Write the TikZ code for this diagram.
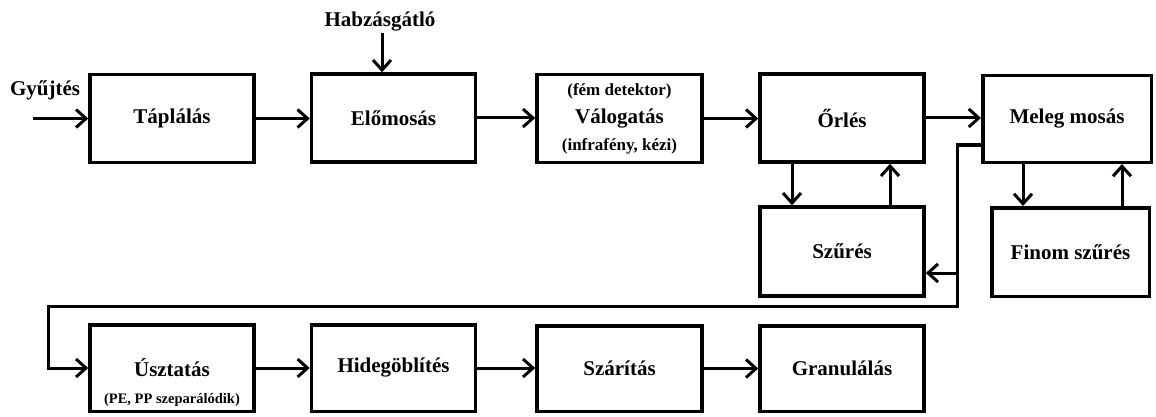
\documentclass[tikz,border=0pt]{standalone}
\usepackage{fontspec}
\setmainfont{Liberation Serif}
\usetikzlibrary{arrows.meta,positioning,calc}
\newcommand{\bigtxt}{\fontsize{21}{25}\selectfont\bfseries}
\newcommand{\smalltxt}{\fontsize{17}{20}\selectfont\bfseries}
\newcommand{\tinytxt}{\fontsize{14.5}{17}\selectfont\bfseries}

\begin{document}
\begin{tikzpicture}[x=1pt,y=-1pt,
    box/.style={draw,line width=3.5pt,minimum width=164pt,minimum height=88pt,inner sep=0pt,font=\bigtxt,align=center},
    flow/.style={line width=3pt,-{Straight Barb[length=10pt,width=18pt]}},
    lbl/.style={font=\bigtxt,inner sep=1pt}]
  \useasboundingbox (0,0) rectangle (1156,417);
  % first row
  \node[box] (tap) at (172,118.5) {Táplálás};
  \node[box] (elo) at (393.5,118) {Előmosás};
  \node[box,minimum width=165pt] (val) at (619.5,118.5) {{\smalltxt (fém detektor)}\\[3pt]Válogatás\\[2pt]{\smalltxt (infrafény, kézi)}};
  \node[box] (orl) at (842,118) {Őrlés};
  \node[box,minimum width=168.5pt,minimum height=86.5pt] (mel) at (1067,119) {Meleg mosás};
  % filters
  \node[box,minimum height=89pt] (szu) at (842,251.5) {Szűrés};
  \node[box,minimum width=157.5pt,minimum height=88.5pt] (fin) at (1070.5,252) {Finom szűrés};
  % last row
  \node[box,minimum height=86.5pt] (usz) at (172,368) {Úsztatás};
  \node[font=\tinytxt,above=3pt] (pepp) at (usz.south) {(PE, PP szeparálódik)};
  \node[box,minimum height=86.5pt] (hid) at (393.5,368) {Hidegöblítés};
  \node[box,minimum width=165pt,minimum height=85.5pt] (sza) at (619.5,368.5) {Szárítás};
  \node[box,minimum height=85.5pt] (gra) at (842,368.5) {Granulálás};
  % inputs
  \node[lbl] (gyu) at (45,90) {Gyűjtés};
  \node[lbl] (hab) at (380,22) {Habzásgátló};
  \coordinate (src) at (33,118.5);
  \coordinate (bend) at (957,306);
  \coordinate (back) at (48,306);
  \coordinate (tee) at (957,273);

  \draw[flow] (src) -- (src -| tap.west);
  \draw[flow] ([xshift=2pt]hab.south) -- ([xshift=2pt]hab.south |- elo.north);
  \draw[flow] (tap.east) -- (tap.east -| elo.west);
  \draw[flow] (elo.east) -- (elo.east -| val.west);
  \draw[flow] (val.east) -- (val.east -| orl.west);
  \draw[flow] (orl.east) -- (orl.east -| mel.west);
  % filter loops
  \draw[flow] ([xshift=-50pt]orl.south) -- ([xshift=-50pt]orl.south |- szu.north);
  \draw[flow] ([xshift=48pt]szu.north) -- ([xshift=48pt]szu.north |- orl.south);
  \draw[flow] ([xshift=-44pt]mel.south) -- ([xshift=-44pt]mel.south |- fin.north);
  \draw[flow] ([xshift=51.5pt]fin.north) -- ([xshift=51.5pt]fin.north |- mel.south);
  % back to the last row
  \draw[flow,line join=miter] ([yshift=-26pt]mel.west) -| (bend) -- (back) |- (usz.west);
  \draw[flow] (tee) -- (tee -| szu.east);
  \draw[flow] (usz.east) -- (usz.east -| hid.west);
  \draw[flow] (hid.east) -- (hid.east -| sza.west);
  \draw[flow] (sza.east) -- (sza.east -| gra.west);
\end{tikzpicture}
\end{document}
